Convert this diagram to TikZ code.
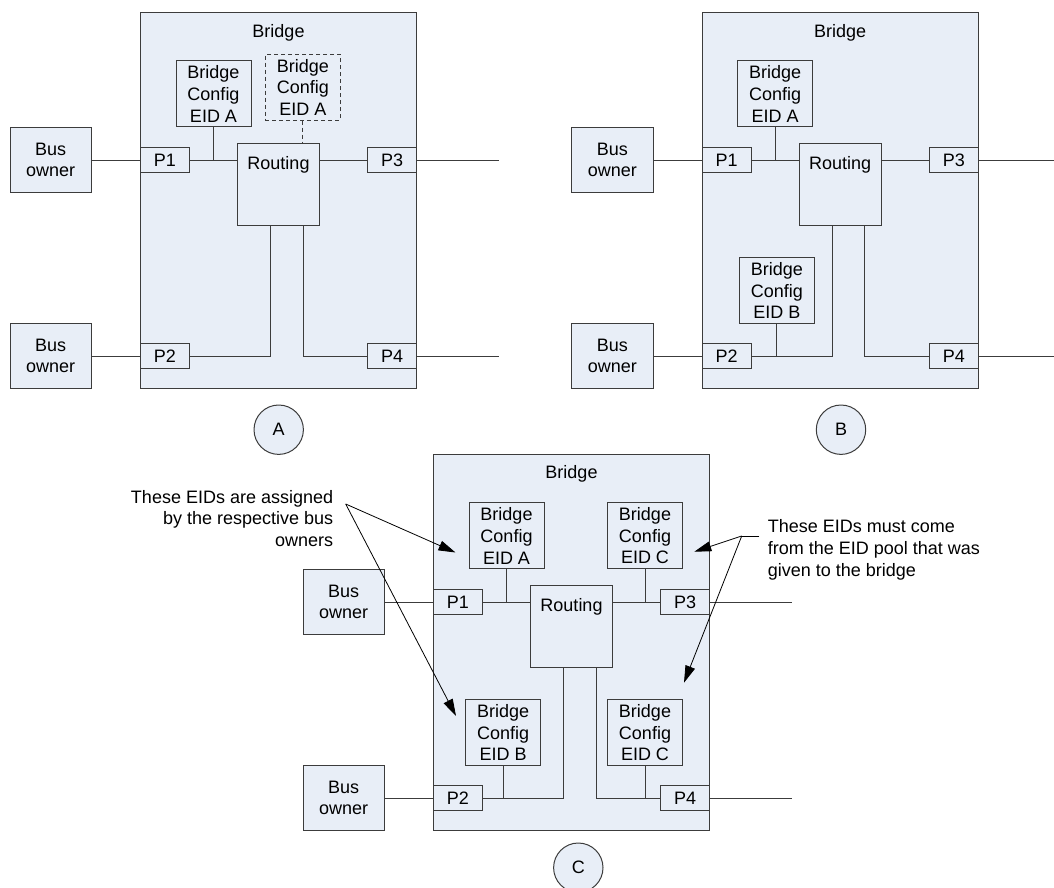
\documentclass[tikz,border=0pt]{standalone}
\usepackage{fontspec}
\setmainfont{Liberation Sans}
\usetikzlibrary{arrows.meta}
\definecolor{bridgeblue}{RGB}{232,238,247}
\definecolor{edgegray}{RGB}{60,60,60}
\tikzset{
	box/.style={draw=edgegray, fill=bridgeblue, line width=1pt, inner sep=0pt},
	bridge/.style={box, minimum width=276.4pt, minimum height=376.4pt},
	owner/.style={box, minimum width=81.3pt, minimum height=65.7pt, align=center},
	port/.style={box, minimum width=49pt, minimum height=24.5pt},
	cfg/.style={box, minimum width=75pt, minimum height=65.7pt, align=center},
	routing/.style={box, minimum width=81.7pt, minimum height=82pt, inner ysep=3pt, text height=23pt, text depth=53pt},
	tag/.style={box, circle, minimum size=49.4pt},
	wire/.style={draw=edgegray, line width=1pt},
	pointer/.style={draw=black, line width=0.8pt, -{Triangle[length=17pt,width=10pt]}},
}
\begin{document}
\begin{tikzpicture}[x=1pt,y=-1pt,font=\fontsize{18pt}{21.7pt}\selectfont]
	\useasboundingbox (0,0) rectangle (1054,888);
	% A
	\begin{scope}[name prefix=a-]
		\node[bridge] at (278.5,200.5) (br) {};
		\node at (278.5,32.5) (brl) {Bridge};
		\node[owner] at (50.7,160) (bo1) {Bus\\owner};
		\node[owner] at (50.7,356) (bo2) {Bus\\owner};
		\node[port] at (164.8,160) (p1) {P1};
		\node[port] at (164.8,356) (p2) {P2};
		\node[port] at (392.2,160) (p3) {P3};
		\node[port] at (392.2,356) (p4) {P4};
		\node[cfg] at (213.5,93.8) (cfga) {Bridge\\Config\\EID A};
		\node[cfg,dash pattern=on 4pt off 3pt] at (302.8,87.2) (cfgx) {Bridge\\Config\\EID A};
		\node[routing] at (278.5,184.3) (rt) {Routing};
		\node[tag] at (278.7,429.7) (tag) {A};
		\coordinate (e3) at (499,160);
		\coordinate (e4) at (499,356);
		%
		\draw[wire] (bo1) -- (p1);
		\draw[wire] (bo2) -- (p2);
		\draw[wire] (p1.east) -- (p1.east -| rt.west);
		\draw[wire] (cfga.south) -- (cfga.south |- p1.east);
		\draw[wire,dash pattern=on 4pt off 3pt] (cfgx.south) -- (cfgx.south |- rt.north);
		\draw[wire] (p3.west -| rt.east) -- (p3.west);
		\draw[wire] ([xshift=-8pt]rt.south) |- (p2.east);
		\draw[wire] ([xshift=24.5pt]rt.south) |- (p4.west);
		\draw[wire] (p3.east) -- (e3);
		\draw[wire] (p4.east) -- (e4);
	\end{scope}
	% B
	\begin{scope}[shift={(561.7,0)}, name prefix=b-]
		\node[bridge] at (278.5,200.5) (br) {};
		\node at (278.5,32.5) (brl) {Bridge};
		\node[owner] at (50.7,160) (bo1) {Bus\\owner};
		\node[owner] at (50.7,356) (bo2) {Bus\\owner};
		\node[port] at (164.8,160) (p1) {P1};
		\node[port] at (164.8,356) (p2) {P2};
		\node[port] at (392.2,160) (p3) {P3};
		\node[port] at (392.2,356) (p4) {P4};
		\node[cfg] at (213.5,93.8) (cfga) {Bridge\\Config\\EID A};
		\node[cfg] at (215.1,290.5) (cfgb) {Bridge\\Config\\EID B};
		\node[routing] at (278.5,184.3) (rt) {Routing};
		\node[tag] at (279.3,429.7) (tag) {B};
		\coordinate (e3) at (492.3,160);
		\coordinate (e4) at (492.3,356);
		%
		\draw[wire] (bo1) -- (p1);
		\draw[wire] (bo2) -- (p2);
		\draw[wire] (p1.east) -- (p1.east -| rt.west);
		\draw[wire] (cfga.south) -- (cfga.south |- p1.east);
		\draw[wire] (p3.west -| rt.east) -- (p3.west);
		\draw[wire] ([xshift=-8pt]rt.south) |- (p2.east);
		\draw[wire] (cfgb.south) -- (cfgb.south |- p2.east);
		\draw[wire] ([xshift=24.5pt]rt.south) |- (p4.west);
		\draw[wire] (p3.east) -- (e3);
		\draw[wire] (p4.east) -- (e4);
	\end{scope}
	% C
	\begin{scope}[shift={(293,442)}, name prefix=c-]
		\node[bridge] at (278.5,200.5) (br) {};
		\node at (278.5,32) (brl) {Bridge};
		\node[owner] at (50.7,160) (bo1) {Bus\\owner};
		\node[owner] at (50.7,356) (bo2) {Bus\\owner};
		\node[port] at (164.8,160) (p1) {P1};
		\node[port] at (164.8,356) (p2) {P2};
		\node[port] at (392.2,160) (p3) {P3};
		\node[port] at (392.2,356) (p4) {P4};
		\node[cfg] at (213.5,93.8) (cfga) {Bridge\\Config\\EID A};
		\node[cfg] at (352,93.8) (cfgct) {Bridge\\Config\\EID C};
		\node[cfg] at (210.2,290.7) (cfgb) {Bridge\\Config\\EID B};
		\node[cfg] at (352,290.7) (cfgcb) {Bridge\\Config\\EID C};
		\node[routing] at (278.5,184.3) (rt) {Routing};
		\node[tag] at (285.3,425.7) (tag) {C};
		\coordinate (e3) at (498.7,160);
		\coordinate (e4) at (498.7,356);
		%
		\draw[wire] (bo1) -- (p1);
		\draw[wire] (bo2) -- (p2);
		\draw[wire] (p1.east) -- (p1.east -| rt.west);
		\draw[wire] (cfga.south) -- (cfga.south |- p1.east);
		\draw[wire] (p3.west -| rt.east) -- (p3.west);
		\draw[wire] (cfgct.south) -- (cfgct.south |- p3.west);
		\draw[wire] ([xshift=-8pt]rt.south) |- (p2.east);
		\draw[wire] (cfgb.south) -- (cfgb.south |- p2.east);
		\draw[wire] ([xshift=24.5pt]rt.south) |- (p4.west);
		\draw[wire] (cfgcb.south) -- (cfgcb.south |- p4.west);
		\draw[wire] (p3.east) -- (e3);
		\draw[wire] (p4.east) -- (e4);
	\end{scope}
	% notes
	\node[anchor=east, align=right, inner sep=0pt] at (333.3,518.3) (notel) {These EIDs are assigned\\by the respective bus\\owners};
	\coordinate (sl) at (345.7,504);
	\coordinate (tl1) at (455.5,552.5);
	\coordinate (tl2) at (456,716);
	\draw[pointer] (sl) -- (tl1);
	\draw[pointer] (sl) -- (tl2);
	%
	\node[anchor=west, align=left, inner sep=0pt] at (767.7,549.8) (noter) {These EIDs must come\\from the EID pool that was\\given to the bridge};
	\coordinate (sr0) at (759.3,536);
	\coordinate (sr) at (741.7,536);
	\coordinate (tr1) at (694.3,551.7);
	\coordinate (tr2) at (684,682.7);
	\draw[line width=0.8pt] (sr0) -- (sr);
	\draw[pointer] (sr) -- (tr1);
	\draw[pointer] (sr) -- (tr2);
\end{tikzpicture}
\end{document}
